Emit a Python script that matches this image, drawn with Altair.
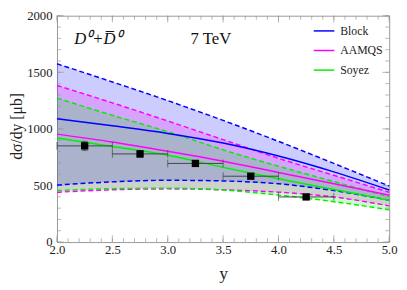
import altair as alt
import pandas as pd

# ---- data ----
xs = [2.0, 2.5, 3.0, 3.5, 4.0, 4.5, 5.0]

block_hi = [1575, 1415, 1250, 1075, 890, 695, 495]
block_mid = [1089, 1027, 960, 875, 760, 620, 460]
block_lo = [504, 532, 546, 540, 515, 455, 370]

aamqs_hi = [1384, 1230, 1070, 905, 740, 590, 440]
aamqs_mid = [954, 884, 802, 714, 615, 515, 414]
aamqs_lo = [440, 462, 470, 462, 441, 399, 320]

soyez_hi = [1272, 1120, 975, 815, 670, 535, 400]
soyez_mid = [920, 845, 768, 660, 560, 465, 370]
soyez_lo = [455, 472, 476, 460, 415, 357, 285]

models = ["Block", "AAMQS", "Soyez"]
colors = ["#0000ff", "#ff00ff", "#00f000"]

pt_x = [2.25, 2.75, 3.25, 3.75, 4.25]
pt_y = [850, 779, 695, 582, 399]
pt_yerr = [40, 30, 25, 20, 15]
pt_xerr = [0.25, 0.25, 0.25, 0.25, 0.25]

x_major = [2.0, 2.5, 3.0, 3.5, 4.0, 4.5, 5.0]
x_minor = [round(2.0 + 0.1 * i, 1) for i in range(31)]
y_major = [0, 500, 1000, 1500, 2000]
y_minor = list(range(0, 2001, 100))

ann_text = ["D⁰+D\u0305⁰", "7 TeV"]
ann_x = [2.37, 3.39]
ann_y = [1790, 1790]
ann_style = ["italic", "normal"]

W, H = 339, 231
SERIF = "Times New Roman, Liberation Serif, serif"

# ---- tables ----
bands = pd.DataFrame({
    "x": xs * 3,
    "model": sum([[m] * len(xs) for m in models], []),
    "hi": block_hi + aamqs_hi + soyez_hi,
    "lo": block_lo + aamqs_lo + soyez_lo,
    "mid": block_mid + aamqs_mid + soyez_mid,
})
dashed = pd.DataFrame({
    "x": xs * 6,
    "model": sum([[m] * (2 * len(xs)) for m in models], []),
    "bound": (["hi"] * len(xs) + ["lo"] * len(xs)) * 3,
    "v": block_hi + block_lo + aamqs_hi + aamqs_lo + soyez_hi + soyez_lo,
})
pts = pd.DataFrame({"x": pt_x, "y": pt_y, "ye": pt_yerr, "xe": pt_xerr})
pts["x0"] = pts.x - pts.xe
pts["x1"] = pts.x + pts.xe
pts["y0"] = pts.y - pts.ye
pts["y1"] = pts.y + pts.ye
ann = pd.DataFrame({"t": ann_text, "x": ann_x, "y": ann_y, "s": ann_style})

xsc = alt.Scale(domain=[2, 5], nice=False, zero=False)
ysc = alt.Scale(domain=[0, 2000], nice=False, zero=False)
csc = alt.Scale(domain=models, range=colors)

xax = alt.Axis(values=x_major, format=".1f", ticks=False, domain=False, grid=False,
               labelFont=SERIF, labelFontSize=13, labelColor="#222", labelPadding=2,
               title="y", titleFont=SERIF, titleFontSize=18, titleFontWeight="normal",
               titleColor="#222", titlePadding=8, labelFlush=False)
yax = alt.Axis(values=y_major, format="d", ticks=False, domain=False, grid=False,
               labelFont=SERIF, labelFontSize=13, labelColor="#222", labelPadding=5,
               title="dσ/dy [μb]", titleFont=SERIF, titleFontSize=16,
               titleFontWeight="normal", titleColor="#222", titleX=-33, titleY=H / 2 - 3,
               titleBaseline="bottom", titleAngle=270, labelFlush=False)

leg = alt.Legend(
    title=None, orient="none", legendX=261, legendY=4, symbolType="stroke",
    symbolSize=441, symbolStrokeWidth=1.5, labelFont=SERIF, labelFontSize=12,
    labelColor="#222", labelOffset=5, rowPadding=2, padding=0)

base_b = alt.Chart(bands)
areas = []
for m, c in zip(models, colors):
    areas.append(
        base_b.transform_filter(alt.datum.model == m).mark_area(color=c, opacity=0.2).encode(
            x=alt.X("x:Q", scale=xsc, axis=xax),
            y=alt.Y("hi:Q", scale=ysc, axis=yax),
            y2="lo:Q",
        )
    )

dash_lines = alt.Chart(dashed).mark_line(strokeDash=[5, 3], strokeWidth=1.5, interpolate="monotone").encode(
    x=alt.X("x:Q", scale=xsc),
    y=alt.Y("v:Q", scale=ysc),
    color=alt.Color("model:N", scale=csc, sort=models, legend=leg),
    detail="bound:N",
)

solid = base_b.mark_line(strokeWidth=1.5, interpolate="monotone").encode(
    x=alt.X("x:Q", scale=xsc),
    y=alt.Y("mid:Q", scale=ysc),
    color=alt.Color("model:N", scale=csc, sort=models, legend=leg),
)

ebase = alt.Chart(pts)
hbar = ebase.mark_rule(color="#444", strokeWidth=1).encode(
    x=alt.X("x0:Q", scale=xsc), x2="x1:Q", y=alt.Y("y:Q", scale=ysc))
vbar = ebase.mark_rule(color="#444", strokeWidth=1).encode(
    x=alt.X("x:Q", scale=xsc), y=alt.Y("y0:Q", scale=ysc), y2="y1:Q")
hcap0 = ebase.mark_tick(color="#444", orient="vertical", size=8, thickness=1).encode(
    x=alt.X("x0:Q", scale=xsc), y=alt.Y("y:Q", scale=ysc))
hcap1 = ebase.mark_tick(color="#444", orient="vertical", size=8, thickness=1).encode(
    x=alt.X("x1:Q", scale=xsc), y=alt.Y("y:Q", scale=ysc))
vcap0 = ebase.mark_tick(color="#444", orient="horizontal", size=6, thickness=1).encode(
    x=alt.X("x:Q", scale=xsc), y=alt.Y("y0:Q", scale=ysc))
vcap1 = ebase.mark_tick(color="#444", orient="horizontal", size=6, thickness=1).encode(
    x=alt.X("x:Q", scale=xsc), y=alt.Y("y1:Q", scale=ysc))
squares = ebase.mark_square(color="black", size=56, opacity=1).encode(
    x=alt.X("x:Q", scale=xsc), y=alt.Y("y:Q", scale=ysc))

texts = []
for st in ("italic", "normal"):
    texts.append(
        alt.Chart(ann).transform_filter(alt.datum.s == st).mark_text(
            font=SERIF, fontSize=17, color="#111", fontStyle=st).encode(
            x=alt.X("x:Q", scale=xsc), y=alt.Y("y:Q", scale=ysc), text="t:N")
    )

# inward frame ticks
tcol = "#999"
xmaj = pd.DataFrame({"x": x_major})
xmin = pd.DataFrame({"x": x_minor})
ymaj = pd.DataFrame({"y": y_major})
ymin = pd.DataFrame({"y": y_minor})
ticks = []
for df, sz in ((xmaj, 7), (xmin, 4)):
    for yy in (H - sz / 2, sz / 2):
        ticks.append(alt.Chart(df).mark_tick(color=tcol, orient="vertical", size=sz, thickness=1).encode(
            x=alt.X("x:Q", scale=xsc), y=alt.value(yy)))
for df, sz in ((ymaj, 7), (ymin, 4)):
    for xx in (sz / 2, W - sz / 2):
        ticks.append(alt.Chart(df).mark_tick(color=tcol, orient="horizontal", size=sz, thickness=1).encode(
            y=alt.Y("y:Q", scale=ysc), x=alt.value(xx)))

chart = alt.layer(
    *areas, *ticks, dash_lines, solid, hbar, vbar, hcap0, hcap1, vcap0, vcap1, squares, *texts
).properties(
    width=W, height=H,
    autosize=alt.AutoSizeParams(type="none"),
    padding={"left": 50, "top": 5, "right": 10, "bottom": 45},
    background="white",
).configure_view(stroke="#999", strokeWidth=1)

chart.save("out.html", embed_options={"renderer": "svg", "actions": False})
